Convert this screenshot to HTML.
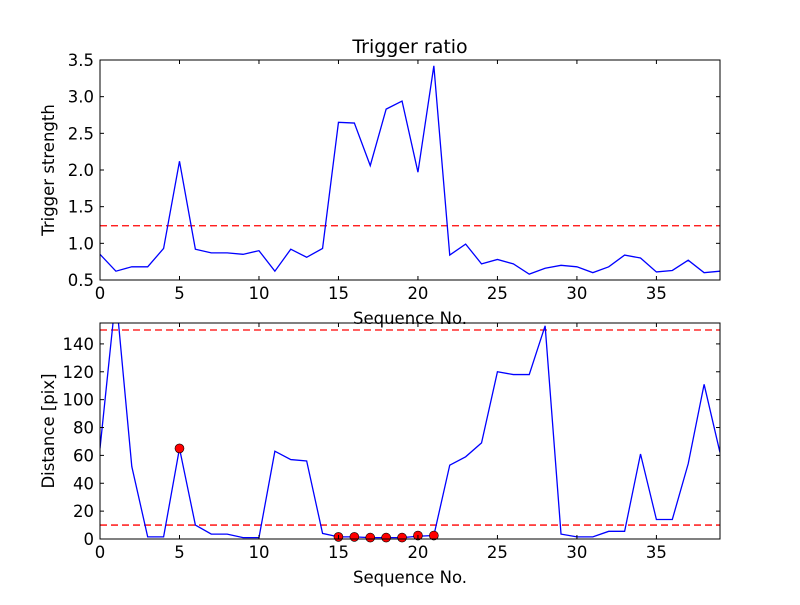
<!DOCTYPE html>
<html><head><meta charset="utf-8"><style>body{margin:0;background:#fff}svg text{font-family:"DejaVu Sans","Liberation Sans",sans-serif}</style></head>
<body>
<svg id="c" width="800" height="600"></svg>
<script>
const xs=[...Array(40).keys()];
const ratio=[0.85,0.62,0.68,0.68,0.93,2.12,0.92,0.87,0.87,0.85,0.90,0.62,0.92,0.81,0.93,2.65,2.64,2.06,2.83,2.94,1.97,3.42,0.84,0.99,0.72,0.78,0.72,0.58,0.66,0.70,0.68,0.60,0.68,0.84,0.80,0.61,0.63,0.77,0.60,0.62];
const ratioThresh=1.24;
const dist=[65,175,52,1.5,1.5,65,10,3.5,3.5,1,1,63,57,56,4,1.5,1.5,1,1,1,2,2.5,53,59,69,120,118,118,153,3.5,1.5,1.5,5.5,5.5,61,14,14,54,111,62];
const markIdx=[5,15,16,17,18,19,20,21];
const markVal=[65,1.5,1.5,1,1,1,2.5,2.5];
const distThresh=[10,150];
const xTicks=[0,5,10,15,20,25,30,35];
const topTicks=[0.5,1.0,1.5,2.0,2.5,3.0,3.5];
const botTicks=[0,20,40,60,80,100,120,140];
const svg=document.getElementById('c');const NS='http://www.w3.org/2000/svg';
function el(t,a,p){const e=document.createElementNS(NS,t);for(const k in a)e.setAttribute(k,a[k]);(p||svg).appendChild(e);return e;}
function panel(y0,y1,ymin,ymax,ticks,fmt,series,ylab,name){
 const L=100,R=720;const X=v=>L+(v-0)/39*(R-L);const Y=v=>y1-(v-ymin)/(ymax-ymin)*(y1-y0);
 const g=el('g',{});
 const cp='cp'+name;const d=el('defs',{},g);const c=el('clipPath',{id:cp},d);el('rect',{x:L,y:y0,width:R-L,height:y1-y0},c);
 return {g,X,Y,L,R,cp,fin(){
  el('rect',{x:L,y:y0,width:R-L,height:y1-y0,fill:'none',stroke:'#000','stroke-width':1},g);
  xTicks.forEach(t=>{el('line',{x1:X(t),x2:X(t),y1:y1,y2:y1-4,stroke:'#000'},g);el('line',{x1:X(t),x2:X(t),y1:y0,y2:y0+4,stroke:'#000'},g);
   const tx=el('text',{x:X(t),y:y1+19,'text-anchor':'middle','font-size':16.5},g);tx.textContent=t;});
  ticks.forEach(t=>{el('line',{x1:L,x2:L+4,y1:Y(t),y2:Y(t),stroke:'#000'},g);el('line',{x1:R,x2:R-4,y1:Y(t),y2:Y(t),stroke:'#000'},g);
   const tx=el('text',{x:L-6,y:Y(t)+6,'text-anchor':'end','font-size':16.5},g);tx.textContent=fmt(t);});
  const xl=el('text',{x:410,y:y1+44,'text-anchor':'middle','font-size':16.5},g);xl.textContent='Sequence No.';
  const yl=el('text',{x:0,y:0,'text-anchor':'middle','font-size':16.5,transform:`translate(${L-46},${(y0+y1)/2}) rotate(-90)`},g);yl.textContent=ylab;
 }};
}
const p1=panel(60,280,0.5,3.5,topTicks,t=>t.toFixed(1),ratio,'Trigger strength','trigger-panel');
let l=el('line',{x1:p1.L,x2:p1.R,y1:p1.Y(ratioThresh),y2:p1.Y(ratioThresh),stroke:'#f00','stroke-width':1.3,'stroke-dasharray':'7,4'},p1.g);

let pl=el('polyline',{points:xs.map((x,i)=>p1.X(x)+','+p1.Y(ratio[i])).join(' '),fill:'none',stroke:'blue','stroke-width':1.3,'clip-path':`url(#${p1.cp})`},p1.g);

p1.fin();
const t=el('text',{x:410,y:53,'text-anchor':'middle','font-size':19});t.textContent='Trigger ratio';
const p2=panel(323,539,0,155,botTicks,t=>t,dist,'Distance [pix]','distance-panel');
distThresh.forEach(v=>{const e=el('line',{x1:p2.L,x2:p2.R,y1:p2.Y(v),y2:p2.Y(v),stroke:'#f00','stroke-width':1.3,'stroke-dasharray':'7,4'},p2.g);});
pl=el('polyline',{points:xs.map((x,i)=>p2.X(x)+','+p2.Y(dist[i])).join(' '),fill:'none',stroke:'blue','stroke-width':1.3,'clip-path':`url(#${p2.cp})`},p2.g);

markIdx.forEach((x,i)=>{const m=el('circle',{cx:p2.X(x),cy:p2.Y(markVal[i]),r:4.5,fill:'red',stroke:'#000','stroke-width':0.6},p2.g);});
p2.fin();
</script>
</body></html>
